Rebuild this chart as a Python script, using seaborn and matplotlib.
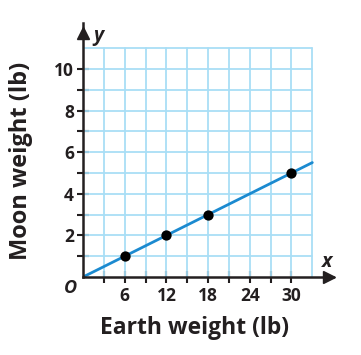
import matplotlib
matplotlib.use("Agg")
import matplotlib.pyplot as plt
import pandas as pd
import seaborn as sns

sns.set_style("white")
plt.rcParams["font.family"] = ["Open Sans", "DejaVu Sans"]

# data
earth_points = [6, 12, 18, 30]
moon_points = [1, 2, 3, 5]
line_earth = [0, 33]
line_moon = [0, 5.5]
x_labels = [6, 12, 18, 24, 30]
y_labels = [2, 4, 6, 8, 10]
x_minor = [3, 9, 15, 21, 27]
y_minor = [1, 3, 5, 7, 9]
grid_x = list(range(3, 34, 3))
grid_y = list(range(1, 12))

points = pd.DataFrame({"earth": earth_points, "moon": moon_points})
line = pd.DataFrame({"earth": line_earth, "moon": line_moon})

grid_color = "#a9def6"
line_color = "#1b8ad0"
ink = "#231f20"

fig = plt.figure(figsize=(3.61, 3.55), dpi=100)
ax = fig.add_axes([0.2299, 0.2197, 0.693, 0.715])
ax.set_xlim(0, 36)
ax.set_ylim(0, 12.2)

for gx in grid_x:
    ax.plot([gx, gx], [0, 11], color=grid_color, lw=1.3, zorder=1)
for gy in grid_y:
    ax.plot([0, 33], [gy, gy], color=grid_color, lw=1.3, zorder=1)

sns.lineplot(data=line, x="earth", y="moon", color=line_color, lw=2.0,
             ax=ax, zorder=3)
sns.scatterplot(data=points, x="earth", y="moon", color="black", s=55,
                edgecolor="black", linewidth=0, ax=ax, zorder=4)

for side in ["top", "right"]:
    ax.spines[side].set_visible(False)
for side in ["left", "bottom"]:
    ax.spines[side].set_color(ink)
    ax.spines[side].set_linewidth(1.8)
    ax.spines[side].set_zorder(5)

# arrow heads
ax.plot(35.4, 0, marker=">", color=ink, ms=8, clip_on=False, zorder=6)
ax.plot(0, 11.75, marker="^", color=ink, ms=8, clip_on=False, zorder=6)

ax.set_xticks(x_labels)
ax.set_xticklabels([str(v) for v in x_labels])
ax.set_xticks(x_minor, minor=True)
ax.set_yticks(y_labels)
ax.set_yticklabels([str(v) for v in y_labels])
ax.set_yticks(y_minor, minor=True)
ax.tick_params(which="both", bottom=True, left=True, direction="inout",
               length=9, width=1.5, color=ink, labelsize=12.5,
               labelcolor=ink)
ax.tick_params(axis="x", which="major", pad=3)
ax.tick_params(axis="y", which="major", pad=2)
for t in ax.get_xticklabels() + ax.get_yticklabels():
    t.set_fontweight("bold")

ax.set_xlabel("Earth weight (lb)", fontsize=16.5, fontweight="bold",
              color=ink)
ax.xaxis.set_label_coords(0.444, -0.152)
ax.set_ylabel("Moon weight (lb)", fontsize=17, fontweight="bold",
              color=ink)
ax.yaxis.set_label_coords(-0.2, 0.457)

ax.text(-1.87, -0.53, "O", style="italic", fontsize=13, fontweight="bold",
        ha="center", va="center", color=ink)
ax.text(35.1, 0.72, "x", style="italic", fontsize=14, fontweight="bold",
        ha="center", va="center", color=ink)
ax.text(2.2, 11.6, "y", style="italic", fontsize=14, fontweight="bold",
        ha="center", va="center", color=ink)

fig.savefig("out.png", dpi=100)
plt.close(fig)
